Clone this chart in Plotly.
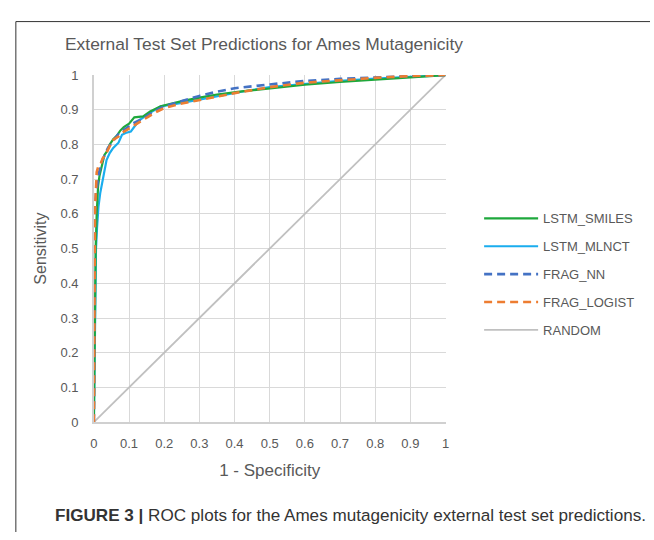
import plotly.graph_objects as go

W, H = 654, 540

series_names = ["LSTM_SMILES", "LSTM_MLNCT", "FRAG_NN", "FRAG_LOGIST", "RANDOM"]

smiles_fpr = [0, 0.002, 0.005, 0.008, 0.012, 0.016, 0.022, 0.03, 0.037, 0.045, 0.055, 0.065, 0.075,
              0.085, 0.1, 0.115, 0.14, 0.16, 0.19, 0.25, 0.3, 0.35, 0.42, 0.5, 0.6, 0.7, 0.8, 0.9, 1]
smiles_tpr = [0, 0.3, 0.5, 0.6, 0.68, 0.71, 0.74, 0.77, 0.78, 0.80, 0.815, 0.825, 0.84,
              0.85, 0.86, 0.878, 0.881, 0.895, 0.91, 0.925, 0.935, 0.944, 0.953, 0.962, 0.972, 0.98, 0.986, 0.993, 1]

mlnct_fpr = [0, 0.003, 0.006, 0.009, 0.013, 0.018, 0.024, 0.03, 0.036, 0.045, 0.055, 0.07, 0.08,
             0.09, 0.105, 0.115, 0.13, 0.155, 0.19, 0.25, 0.3, 0.35, 0.42, 0.5, 0.6, 0.7, 0.8, 0.9, 1]
mlnct_tpr = [0, 0.3, 0.5, 0.56, 0.62, 0.66, 0.69, 0.72, 0.755, 0.775, 0.79, 0.805, 0.828,
             0.833, 0.837, 0.851, 0.87, 0.888, 0.91, 0.92, 0.93, 0.94, 0.952, 0.965, 0.975, 0.983, 0.99, 0.995, 1]

nn_fpr = [0, 0.001, 0.003, 0.006, 0.01, 0.015, 0.022, 0.03, 0.04, 0.055, 0.07, 0.09, 0.11,
          0.14, 0.17, 0.2, 0.25, 0.3, 0.35, 0.4, 0.5, 0.6, 0.7, 0.8, 0.9, 1]
nn_tpr = [0, 0.4, 0.6, 0.66, 0.69, 0.72, 0.75, 0.77, 0.79, 0.81, 0.83, 0.845, 0.86,
          0.875, 0.895, 0.91, 0.925, 0.94, 0.952, 0.962, 0.973, 0.983, 0.989, 0.994, 0.997, 1]

logist_fpr = [0, 0.001, 0.003, 0.005, 0.008, 0.012, 0.018, 0.025, 0.033, 0.045, 0.056, 0.07, 0.079,
              0.095, 0.107, 0.13, 0.153, 0.18, 0.2, 0.25, 0.3, 0.35, 0.4, 0.5, 0.6, 0.7, 0.8, 0.9, 1]
logist_tpr = [0, 0.45, 0.6, 0.65, 0.72, 0.735, 0.74, 0.76, 0.77, 0.795, 0.814, 0.823, 0.833,
              0.843, 0.851, 0.866, 0.879, 0.895, 0.905, 0.918, 0.927, 0.938, 0.948, 0.965, 0.978, 0.986, 0.992, 0.997, 1]

random_fpr = [0, 1]
random_tpr = [0, 1]

tick_vals = [0, 0.1, 0.2, 0.3, 0.4, 0.5, 0.6, 0.7, 0.8, 0.9, 1]
tick_text = ["0", "0.1", "0.2", "0.3", "0.4", "0.5", "0.6", "0.7", "0.8", "0.9", "1"]

title_text = "External Test Set Predictions for Ames Mutagenicity"
x_title = "1 - Specificity"
y_title = "Sensitivity"
caption = "<b>FIGURE 3 |</b> ROC plots for the Ames mutagenicity external test set predictions."

FONT = "Liberation Sans, Arial, sans-serif"
TXT = "#595959"

styles = [
    dict(color="#1EA83C", width=2.2, dash="solid"),
    dict(color="#1AADEE", width=2.2, dash="solid"),
    dict(color="#4472C4", width=2.6, dash="8px,5px"),
    dict(color="#ED7D31", width=2.6, dash="8px,5px"),
    dict(color="#C0C0C0", width=1.8, dash="solid"),
]
data = [(smiles_fpr, smiles_tpr), (mlnct_fpr, mlnct_tpr), (nn_fpr, nn_tpr),
        (logist_fpr, logist_tpr), (random_fpr, random_tpr)]

fig = go.Figure()
draw_order = [4, 1, 0, 2, 3]
for i in draw_order:
    x, y = data[i]
    fig.add_trace(go.Scatter(x=x, y=y, mode="lines", name=series_names[i],
                             line=styles[i], legendrank=i + 1, legendgroup=series_names[i]))

px = lambda v: v / W
py = lambda v: 1 - v / H

fig.update_layout(
    width=W, height=H,
    margin=dict(l=0, r=0, t=0, b=0),
    paper_bgcolor="white", plot_bgcolor="white",
    font=dict(family=FONT, color=TXT, size=13),
    showlegend=True,
    legend=dict(x=px(481), xanchor="left", y=py(202), yanchor="top",
                font=dict(family=FONT, size=13, color=TXT),
                bgcolor="rgba(0,0,0,0)", tracegroupgap=8, itemwidth=54),
    xaxis=dict(domain=[px(91), px(447)], range=[0, 1], tickvals=tick_vals, ticktext=tick_text,
               showgrid=True, gridcolor="#D9D9D9", gridwidth=1, zeroline=False,
               showline=True, linecolor="#D0D0D0", linewidth=1.5,
               ticks="", tickfont=dict(size=13, color=TXT), fixedrange=True, ticklabelstandoff=9,
               title=dict(text=x_title, font=dict(size=17, color=TXT), standoff=14)),
    yaxis=dict(domain=[py(427), py(70)], range=[0, 1], tickvals=tick_vals, ticktext=tick_text,
               showgrid=True, gridcolor="#D9D9D9", gridwidth=1, zeroline=False,
               showline=True, linecolor="#D0D0D0", linewidth=1.5,
               ticks="", tickfont=dict(size=13, color=TXT), fixedrange=True, ticklabelstandoff=11,
               title=dict(text=y_title, font=dict(size=16, color=TXT), standoff=10)),
    shapes=[
        dict(type="line", xref="paper", yref="paper", x0=px(12), x1=px(12), y0=py(15), y1=0,
             line=dict(color="#333333", width=1)),
        dict(type="line", xref="paper", yref="paper", x0=px(12), x1=1, y0=py(15), y1=py(15),
             line=dict(color="#333333", width=1)),
    ],
    annotations=[
        dict(text=title_text, xref="paper", yref="paper", x=px(60), y=py(38), xanchor="left",
             yanchor="middle", showarrow=False, font=dict(family=FONT, size=17.4, color=TXT)),
        dict(text=caption, xref="paper", yref="paper", x=px(50), y=py(523), xanchor="left",
             yanchor="middle", showarrow=False, font=dict(family=FONT, size=17.1, color="#333333")),
    ],
)

fig.write_html("out.html")
